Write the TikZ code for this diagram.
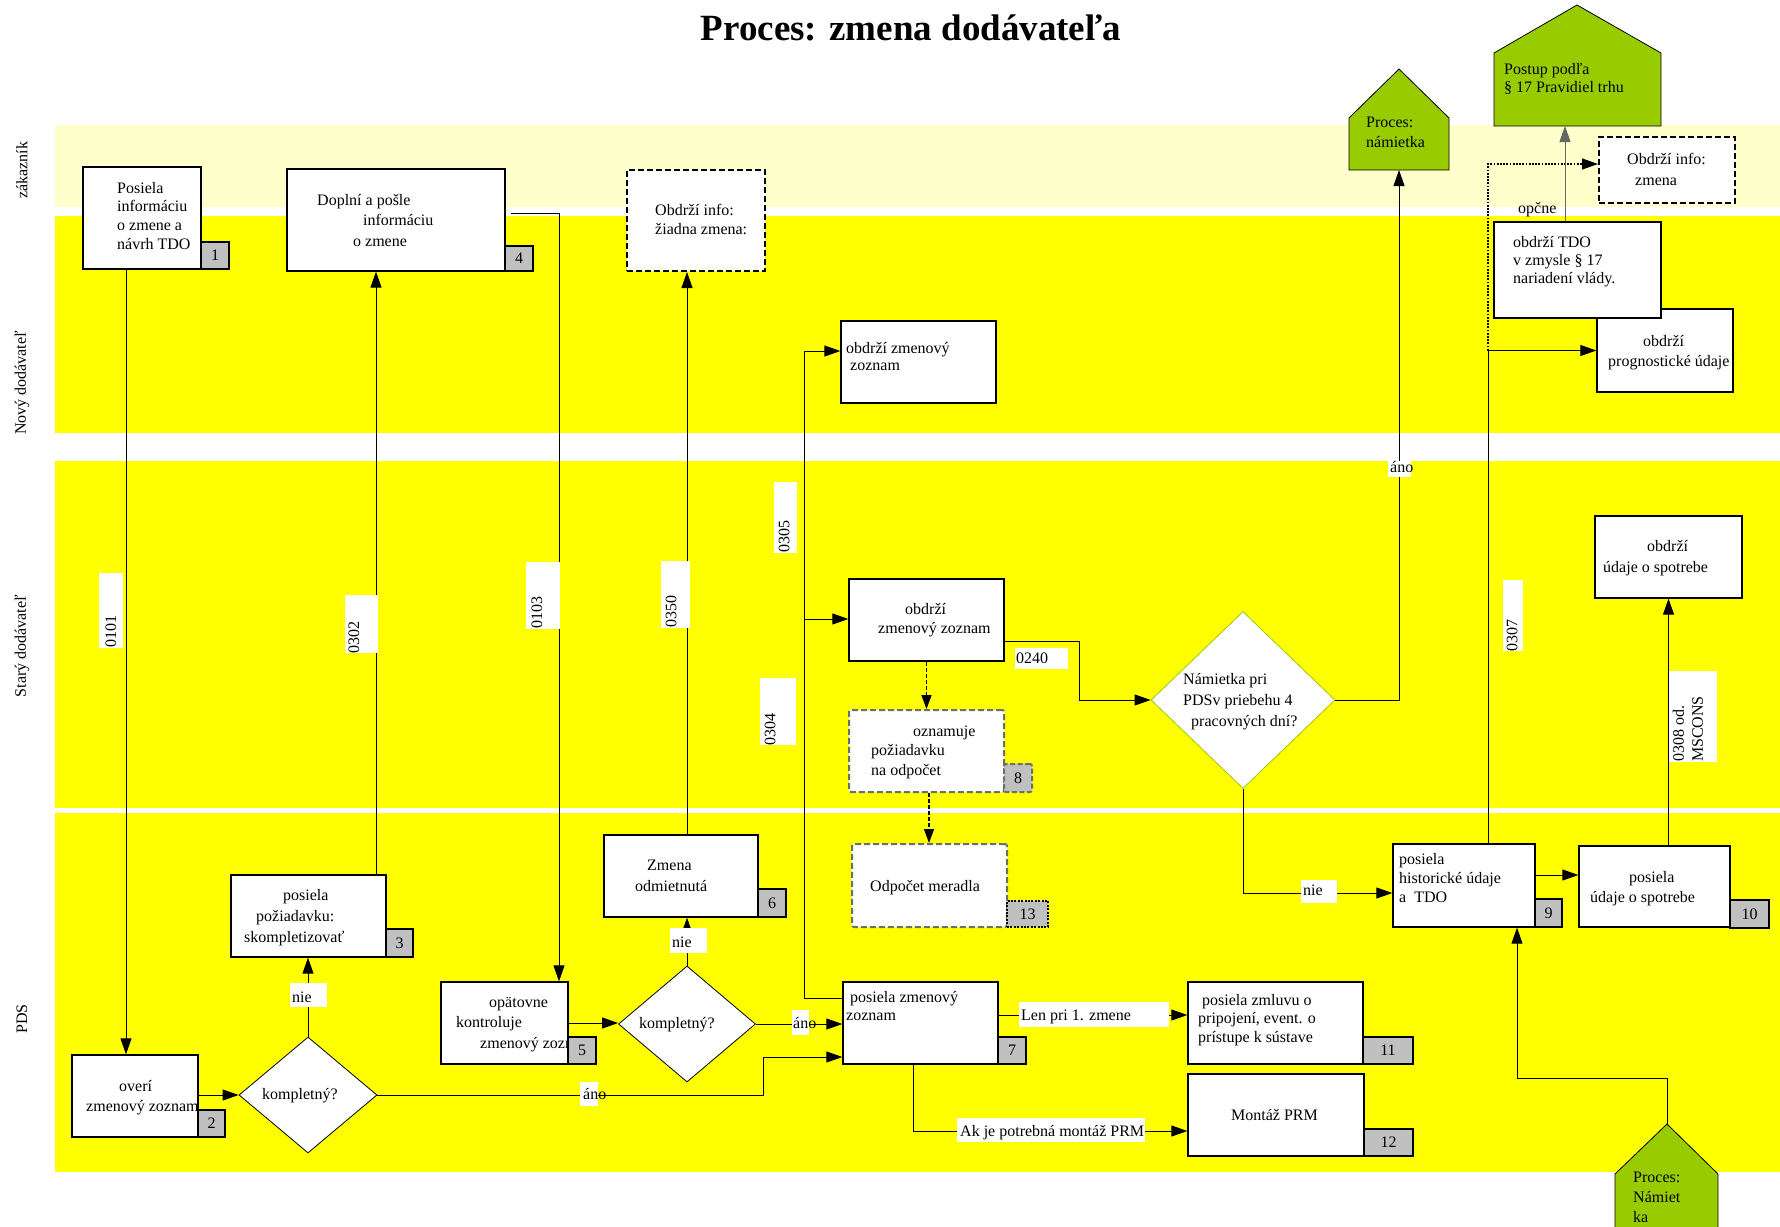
\documentclass[tikz,border=0pt]{standalone}
\usepackage{fontspec}
\setmainfont{Liberation Serif}
\usetikzlibrary{arrows.meta,shapes.geometric,fit}
\definecolor{lyel}{HTML}{FFFFCC}
\definecolor{yel}{HTML}{FFFF00}
\definecolor{grn}{HTML}{99CC00}
\definecolor{nbx}{HTML}{C0C0C0}
\definecolor{dgray}{HTML}{6E6E6E}
\newcommand\mystrut{\rule{0pt}{14pt}}
\begin{document}
\begin{tikzpicture}[x=1pt,y=-1pt,
  box/.style={draw,line width=1.3pt,fill=white,inner sep=0pt},
  dbox/.style={box,line width=2pt,dash pattern=on 6pt off 3pt},
  gbox/.style={box,draw=dgray,line width=2pt,dash pattern=on 6pt off 3pt,rounded corners=2pt},
  nbox/.style={draw,line width=1.3pt,fill=nbx,inner sep=0pt,font=\fontsize{16}{19}\selectfont},
  dia/.style={diamond,draw,line width=0.8pt,fill=white,inner sep=0pt},
  txt/.style={inner sep=0pt,anchor=north west,align=left,font=\fontsize{16}{19}\selectfont},
  sk/.style={font=\fontsize{16}{#1}\selectfont},
  lbl/.style={inner sep=0pt,font=\fontsize{16}{19}\selectfont},
  lane/.style={inner sep=0pt,rotate=90,font=\fontsize{16}{19}\selectfont},
  con/.style={line width=0.9pt},
  arr/.style={con,-{Triangle[length=16pt,width=11pt]}},
  darr/.style={line width=1.6pt,dash pattern=on 4pt off 2pt,-{Triangle[length=14pt,width=10pt]}},
  dotl/.style={line width=1.8pt,dash pattern=on 1.8pt off 1.4pt},
  pent/.style={draw,fill=grn,line width=0.8pt},
  wl/.style={fill=white},
  sz/.style args={#1x#2}{minimum width=#1,minimum height=#2}
]
\clip (0,0) rectangle (1780,1226);
\fill[white] (0,0) rectangle (1780,1226);
% lanes
\fill[lyel] (55,125) rectangle (1780,207);
\fill[yel] (55,216) rectangle (1780,433);
\fill[yel] (55,461) rectangle (1780,808);
\fill[yel] (55,813) rectangle (1780,1172);
\node[lane] (lz) at (22,170) {zákazník};
\node[lane] (ln) at (22,383) {Nový dodávateľ};
\node[lane] (ls) at (22,646) {Starý dodávateľ};
\node[lane] (lp) at (22,1019) {PDS};
% title
\node[inner sep=0pt,font=\bfseries\fontsize{37}{44}\selectfont] (title) at (911,28) {Proces: zmena dodávateľa};

% pentagons
\draw[pent] (1349,170) -- (1349,118) -- (1399,69) -- (1449,118) -- (1449,170) -- cycle;
\draw[pent] (1494,126) -- (1494,53) -- (1577,5) -- (1661,53) -- (1661,126) -- cycle;
\draw[pent] (1615,1240) -- (1615,1174) -- (1667,1124) -- (1718,1174) -- (1718,1240) -- cycle;
\coordinate (pnb) at (1399,170);
\coordinate (ppb) at (1565,126);
\coordinate (pbt) at (1667,1124);

% boxes
\node[box,fit={(83,167) (201,269)}] (b1) {};
\node[box,fit={(287,169) (505,271)}] (b4) {};
\node[dbox,fit={(627,170) (765,271)}] (bz) {};
\node[box,fit={(841,321) (996,403)}] (bnz) {};
\node[box,fit={(849,579) (1004,661)}] (bsz) {};
\node[gbox,fit={(849,710) (1004,792)}] (b8) {};
\node[gbox,fit={(852,844) (1007,927)}] (b13) {};
\node[dia,draw=grn,minimum width=184,minimum height=177] (d3) at (1243,700) {};
\node[dbox,fit={(1599,137) (1735,203)}] (bzm) {};
\node[box,fit={(1597,309) (1733,392)}] (bpro) {};
\node[box,fit={(1494,222) (1661,318)}] (btdo) {};
\node[box,fit={(1595,516) (1742,598)}] (bsp) {};
\node[box,fit={(1393,844) (1535,927)}] (b9) {};
\node[box,fit={(1579,846) (1730,927)}] (b10) {};
\node[box,fit={(231,875) (386,957)}] (b3) {};
\node[dia,minimum width=138,minimum height=116] (d1) at (308,1095) {};
\node[box,fit={(72,1055) (198,1137)}] (b2) {};
\node[box,fit={(604,835) (758,917)}] (b6) {};
\node[dia,minimum width=137,minimum height=116] (d2) at (687,1024) {};
\node[box,fit={(441,982) (568,1064)}] (b5) {};
\node[box,fit={(843,982) (998,1064)}] (b7) {};
\node[box,fit={(1188,982) (1363,1064)}] (b11) {};
\node[box,fit={(1188,1074) (1364,1156)}] (b12) {};

% connectors
\draw[arr] ([xshift=-16pt]b1.south) -- ([xshift=-16pt]b1.south |- b2.north);
\draw[arr] (b2.east |- d1.west) -- (d1.west);
\draw[arr] (d1.north) -- (d1.north |- b3.south);
\draw[arr] ([xshift=67.5pt]b3.north) -- ([xshift=67.5pt]b3.north |- b4.south);
\draw[arr] ([yshift=7pt,xshift=5pt]b4.east) -| ([xshift=54.5pt]b5.north);
\draw[arr] (b5.east) -- (b5.east -| d2.west);
\draw[arr] (d2.north) -- (d2.north |- b6.south);
\draw[arr] (d2.north |- b6.north) -- (d2.north |- bz.south);
\draw[arr] (d2.east) -- (d2.east -| b7.west);
\draw[arr] (d1.east) -- ++(386,0) |- ([yshift=-34pt]b7.west);
\draw[arr] ([yshift=25pt]b7.west) -- ++(-38,0) |- ([yshift=11pt]bnz.west);
\coordinate (j1) at (805,619);
\draw[arr] (j1) -- (j1 -| bsz.west);
\draw[arr] ([yshift=-21pt]bsz.east) -- ++(75,0) |- (d3.west);
\draw[darr] (bsz.south) -- (bsz.south |- b8.north);
\draw[darr] ([xshift=2.5pt]b8.south) -- ([xshift=2.5pt]b8.south |- b13.north);
\draw[arr] (d3.east) -| (pnb);
\draw[arr] (d3.south) |- ([yshift=-7.5pt]b9.west);
\draw[arr] ([yshift=10.5pt]b9.east) -- ([yshift=10.5pt]b9.east -| b10.west);
\draw[arr] (bsp.south |- b10.north) -- (bsp.south);
\coordinate (j2) at ([xshift=24pt]b9.north |- bpro.west);
\draw[con] ([xshift=24pt]b9.north) -- (j2);
\draw[arr] (j2) -- (bpro.west);
\draw[dotl] (j2) |- ([yshift=6pt,xshift=-16pt]bzm.west);
\draw[arr] ([yshift=6pt,xshift=-17pt]bzm.west) -- ([yshift=6pt]bzm.west);
\draw[arr,draw=black!60] (btdo.north -| ppb) -- (ppb);
\draw[arr] (pbt) -- ++(0,-46) -| ([xshift=53pt]b9.south);
\draw[arr] ([yshift=8pt]b7.east) -- ([yshift=8pt]b7.east -| b11.west);
\draw[arr] ([xshift=-7.5pt]b7.south) |- ([yshift=-16pt]b12.west);

% connector labels
\fill[wl] (99,573) rectangle (123,648);
\fill[wl] (345,595) rectangle (378,653);
\fill[wl] (526,562) rectangle (560,629);
\fill[wl] (661,561) rectangle (690,628);
\fill[wl] (774,482) rectangle (797,553);
\fill[wl] (760,678) rectangle (796,745);
\fill[wl] (1015,648) rectangle (1068,669);
\fill[wl] (1503,580) rectangle (1523,651);
\fill[wl] (1669,671) rectangle (1717,762);
\fill[wl] (1388,461) rectangle (1411,477);
\fill[wl] (1301,880) rectangle (1337,903);
\fill[wl] (290,983) rectangle (327,1007);
\fill[wl] (670,928) rectangle (707,953);
\fill[wl] (792,1010) rectangle (809,1035);
\fill[wl] (580,1082) rectangle (598,1106);
\fill[wl] (1019,1002) rectangle (1169,1027);
\fill[wl] (957,1118) rectangle (1145,1142);
\node[lbl,rotate=90] (l0101) at (111,631) {0101};
\node[lbl,rotate=90] (l0302) at (354,637) {0302};
\node[lbl,rotate=90] (l0103) at (537,612) {0103};
\node[lbl,rotate=90] (l0350) at (671,611) {0350};
\node[lbl,rotate=90] (l0305) at (784,536) {0305};
\node[lbl,rotate=90] (l0304) at (770,729) {0304};
\node[lbl,rotate=90] (l0307) at (1512,635) {0307};
\node[lbl,rotate=90,align=left] (l0308) at (1688,729) {0308 od.\\MSCONS};
\node[txt] (t0240) at (1016,649) {\mystrut 0240};
\node[txt] (tano3) at (1390,458) {\mystrut áno};
\node[txt] (tnie3) at (1303,881) {\mystrut nie};
\node[txt] (tnie1) at (292,988) {\mystrut nie};
\node[txt] (tnie2) at (672,933) {\mystrut nie};
\node[txt] (tano2) at (793,1014) {\mystrut áno};
\node[txt] (tano1) at (583,1085) {\mystrut áno};
\node[txt] (tlen) at (1021,1006) {\mystrut Len pri 1. zmene};
\node[txt] (tak) at (960,1122) {\mystrut Ak je potrebná montáž PRM};
\node[txt] (topc) at (1518,199) {\mystrut opčne};

% box texts
\node[txt,sk=18.7] (t1) at (117,179) {\mystrut Posiela\\informáciu\\o zmene a\\návrh TDO};
\node[txt,sk=20.5] (t4) at (317,191) {\mystrut Doplní a pošle\\\hspace*{46pt}informáciu\\\hspace*{36pt}o zmene};
\node[txt,sk=19] (tz) at (655,201) {\mystrut Obdrží info:\\žiadna zmena:};
\node[txt,sk=17.5] (tnz) at (846,339) {\mystrut obdrží zmenový\\\hspace*{4pt}zoznam};
\node[txt,sk=19] (tsz) at (878,600) {\mystrut\hspace*{27pt}obdrží\\zmenový zoznam};
\node[txt,sk=21] (td3) at (1183,670) {\mystrut Námietka pri\\PDSv priebehu 4\\\hspace*{8pt}pracovných dní?};
\node[txt,sk=19.5] (t8) at (871,722) {\mystrut\hspace*{42pt}oznamuje\\požiadavku\\na odpočet};
\node[txt] (t13) at (870,877) {\mystrut Odpočet meradla};
\node[txt,sk=21] (tsp) at (1603,537) {\mystrut\hspace*{44pt}obdrží\\údaje o spotrebe};
\node[txt,sk=19] (t9) at (1399,850) {\mystrut posiela\\historické údaje\\a\ \ TDO};
\node[txt,sk=20] (t10) at (1590,868) {\mystrut\hspace*{39pt}posiela\\údaje o spotrebe};
\node[txt,sk=20] (tpn) at (1366,113) {\mystrut Proces:\\námietka};
\node[txt,sk=18] (tpp) at (1504,60) {\mystrut Postup podľa\\§ 17 Pravidiel trhu};
\node[txt,sk=21] (tzm) at (1627,150) {\mystrut Obdrží info:\\\hspace*{8pt}zmena};
\node[txt,sk=18] (ttdo) at (1513,233) {\mystrut obdrží TDO\\v zmysle § 17\\nariadení vlády.};
\node[txt,sk=20] (tpro) at (1608,332) {\mystrut\hspace*{35pt}obdrží\\prognostické údaje};
\node[txt,sk=21] (t3) at (244,886) {\mystrut\hspace*{39pt}posiela\\\hspace*{12pt}požiadavku:\\skompletizovať};
\node[txt] (tk1) at (262,1085) {\mystrut kompletný?};
\node[txt,sk=20] (t2) at (86,1077) {\mystrut\hspace*{33pt}overí\\zmenový zoznam};
\node[txt,sk=21] (t6) at (635,856) {\mystrut\hspace*{12pt}Zmena\\odmietnutá};
\node[txt] (tk2) at (639,1014) {\mystrut kompletný?};
\node[txt,sk=20.5] (t5) at (456,993) {\mystrut\hspace*{33pt}opätovne\\kontroluje\\\hspace*{24pt}zmenový zoznam};
\node[txt,sk=18] (t7) at (846,988) {\mystrut\hspace*{4pt}posiela zmenový\\zoznam};
\node[txt,sk=18.5] (t11) at (1198,991) {\mystrut\hspace*{4pt}posiela zmluvu o\\pripojení, event. o\\prístupe k sústave};
\node[txt] (t12) at (1231,1106) {\mystrut Montáž PRM};
\node[txt,sk=20] (tpb) at (1633,1168) {\mystrut Proces:\\Námiet\\ka};

% number boxes
\node[nbox,sz=28x27] (n1) at (215,255.5) {1};
\node[nbox,sz=28x25] (n4) at (519,258.5) {4};
\node[nbox,sz=27x28] (n3) at (399.5,943) {3};
\node[nbox,sz=27x27] (n2) at (211.5,1123.5) {2};
\node[nbox,sz=28x27] (n5) at (582,1050.5) {5};
\node[nbox,sz=28x28] (n6) at (772,903) {6};
\node[nbox,sz=28x27] (n7) at (1012,1050.5) {7};
\node[nbox,sz=28x28,draw=dgray,line width=2pt,dash pattern=on 5pt off 2.5pt,rounded corners=2pt] (n8) at (1018,778) {8};
\node[nbox,sz=41x26,line width=2pt,dash pattern=on 2pt off 1.4pt] (n13) at (1027.5,914) {13};
\node[nbox,sz=27x28] (n9) at (1548.5,913) {9};
\node[nbox,sz=39x28] (n10) at (1749.5,914) {10};
\node[nbox,sz=50x27] (n11) at (1388,1050.5) {11};
\node[nbox,sz=49x27] (n12) at (1388.5,1142.5) {12};
\end{tikzpicture}
\end{document}
